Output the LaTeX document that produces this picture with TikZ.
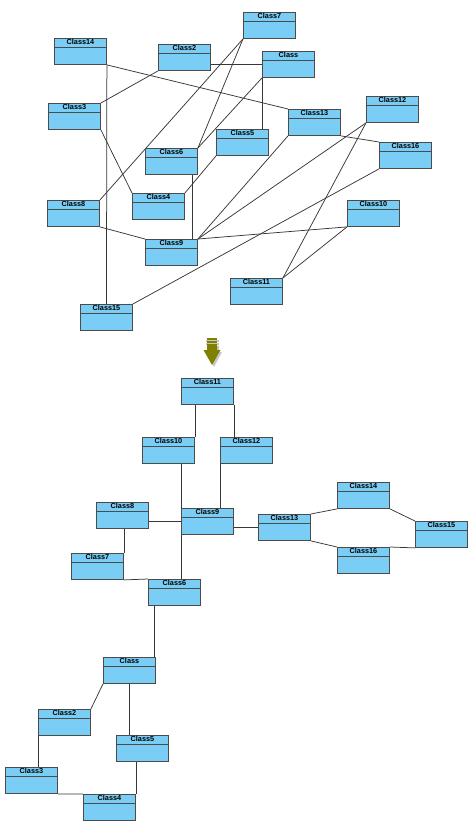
\documentclass[tikz,border=0pt]{standalone}
\usepackage{fontspec}
\newfontfamily\labfont{Liberation Sans}
\usetikzlibrary{backgrounds}
\definecolor{boxfill}{RGB}{122,206,245}
\definecolor{boxline}{RGB}{75,75,75}
\definecolor{edgecol}{RGB}{55,55,55}
\definecolor{olivearrow}{RGB}{128,128,0}
\tikzset{
  cls/.style={draw=boxline, line width=0.9pt, fill=boxfill, anchor=north west,
    minimum width=52pt, minimum height=26pt, inner sep=0pt,
    path picture={\draw[boxline, line width=0.9pt]
      ([yshift=-9pt]path picture bounding box.north west) --
      ([yshift=-9pt]path picture bounding box.north east);},
    label={[anchor=north, inner sep=1.3pt, font=\labfont\bfseries\fontsize{7.3}{8}\selectfont]north:#1}},
  edge/.style={draw=edgecol, line width=0.75pt}
}
\begin{document}
\begin{tikzpicture}[x=1pt, y=-1pt]
\useasboundingbox (0,0) rectangle (474,828);
% ---------- top (unordered) diagram ----------
\node[cls=Class14] (t14) at (54,38) {};
\node[cls=Class2]  (t2)  at (158,44) {};
\node[cls=Class3]  (t3)  at (48,103) {};
\node[cls=Class6]  (t6)  at (145,148) {};
\node[cls=Class7]  (t7)  at (243,12) {};
\node[cls=Class]   (tC)  at (262,51) {};
\node[cls=Class13] (t13) at (288,109) {};
\node[cls=Class12] (t12) at (366,96) {};
\node[cls=Class5]  (t5)  at (216,129) {};
\node[cls=Class16] (t16) at (379,142) {};
\node[cls=Class4]  (t4)  at (132,193) {};
\node[cls=Class8]  (t8)  at (47,200) {};
\node[cls=Class9]  (t9)  at (145,239) {};
\node[cls=Class15] (t15) at (80,304) {};
\node[cls=Class10] (t10) at (347,200) {};
\node[cls=Class11] (t11) at (230,278) {};

\begin{scope}[on background layer]
\path[edge] (t14.south east) -- (t13.north west);
\path[edge] (t14.south east) -- (t15.north);
\path[edge] ([yshift=-7pt]t2.east) -- (tC.west);
\path[edge] (t2.south west) -- (t3.north east);
\path[edge] (t3.south east) -- (t4.north west);
\path[edge] (t7.south west) -- (t8.north east);
\path[edge] (t7.south west) -- (t6.north east);
\path[edge] (tC.south west) -- (t6.north east);
\path[edge] (tC.south west) -- (tC.south west |- t5.north);
\path[edge] (t5.south west) -- (t4.north east);
\path[edge] ([xshift=-6pt]t6.south east) -- ([xshift=-6pt]t9.north east);
\path[edge] (t8.south east) -- (t9.north west);
\path[edge] (t9.north east) -- (t13.south west);
\path[edge] (t9.north east) -- (t12.south west);
\path[edge] (t9.north east) -- (t10.south west);
\path[edge] (t12.south west) -- (t11.north east);
\path[edge] (t13.south east) -- (t16.north west);
\path[edge] (t16.south west) -- (t15.north east);
\path[edge] (t10.south west) -- (t11.north east);
\end{scope}

% ---------- arrow ----------
\fill[gray!45] (206,340) rectangle (219,341.5);
\fill[gray!45] (206,343) rectangle (219,344.5);
\fill[gray!45] (209,346) -- (219,346) -- (219,352) -- (222,352) -- (214,367) -- (206,352) -- (209,352) -- cycle;
\fill[olivearrow] (207,338) rectangle (217,339.6);
\fill[olivearrow] (207,341) rectangle (217,342.6);
\fill[olivearrow] (207,344) -- (217,344) -- (217,350) -- (220.5,350) -- (212,365) -- (203.5,350) -- (207,350) -- cycle;

% ---------- bottom (ordered) diagram ----------
\node[cls=Class11] (b11) at (181,378) {};
\node[cls=Class10] (b10) at (142,437) {};
\node[cls=Class12] (b12) at (220,437) {};
\node[cls=Class8]  (b8)  at (96,502) {};
\node[cls=Class9]  (b9)  at (181,508) {};
\node[cls=Class7]  (b7)  at (71,553) {};
\node[cls=Class6]  (b6)  at (148,579) {};
\node[cls=Class13] (b13) at (258,514) {};
\node[cls=Class14] (b14) at (337,482) {};
\node[cls=Class16] (b16) at (337,547) {};
\node[cls=Class15] (b15) at (415,521) {};
\node[cls=Class]   (bC)  at (103,657) {};
\node[cls=Class2]  (b2)  at (38,709) {};
\node[cls=Class5]  (b5)  at (116,735) {};
\node[cls=Class3]  (b3)  at (5,767) {};
\node[cls=Class4]  (b4)  at (83,794) {};

\begin{scope}[on background layer]
\path[edge] (b10.north east |- b11.south) -- (b10.north east);
\path[edge] (b11.south east) -- (b11.south east |- b12.north);
\path[edge] (b9.north west |- b10.south) -- (b9.north west);
\path[edge] (b9.south west) -- (b9.south west |- b6.north);
\path[edge] (b12.south west) -- (b12.south west |- b9.north);
\path[edge] (b8.east |- b9.west) -- (b9.west);
\path[edge] (b7.north east |- b8.south) -- (b7.north east);
\path[edge] (b7.south east) -- (b6.north west);
\path[edge] (b9.east |- b13.west) -- (b13.west);
\path[edge] (b13.north east) -- (b14.south west);
\path[edge] (b14.south east) -- (b15.north west);
\path[edge] (b13.south east) -- (b16.north west);
\path[edge] (b16.north east) -- (b15.south west);
\path[edge] ([xshift=6pt]b6.south west) -- ([xshift=6pt]b6.south west |- bC.north);
\path[edge] (bC.south west) -- (b2.north east);
\path[edge] (bC.south) -- (bC.south |- b5.north);
\path[edge] (b2.south west) -- (b2.south west |- b3.north);
\path[edge] (b4.north east |- b5.south) -- (b4.north east);
\path[edge] (b3.south east) -- (b4.north west);
\end{scope}
\end{tikzpicture}
\end{document}
